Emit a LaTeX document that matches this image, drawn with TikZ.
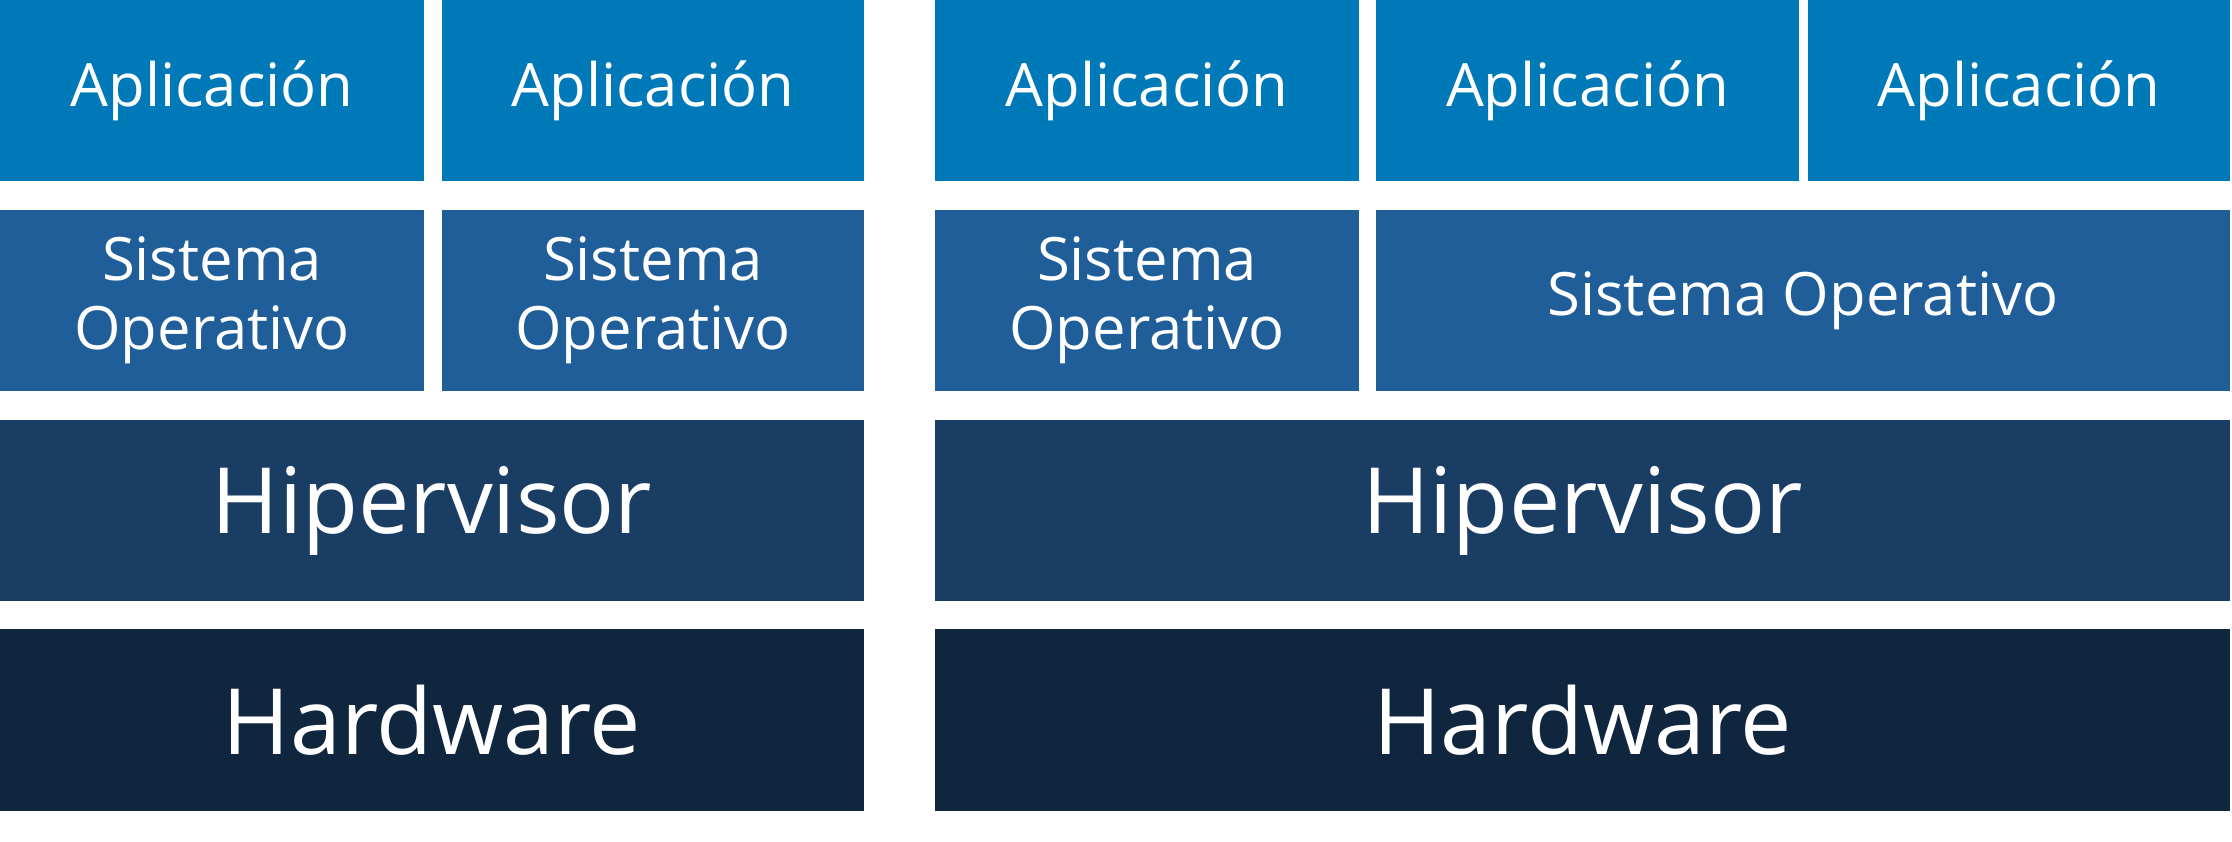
\documentclass[tikz,border=0pt]{standalone}
\usepackage{fontspec}
\setmainfont{Open Sans}
\definecolor{appazul}{HTML}{0079B9}
\definecolor{soazul}{HTML}{1F5E99}
\definecolor{hypazul}{HTML}{1A3D64}
\definecolor{hwazul}{HTML}{10263F}
\begin{document}
\begin{tikzpicture}[x=0.01cm,y=-0.01cm,
    caja/.style={inner sep=0pt,text=white,align=center,minimum height=1.81cm},
    app/.style={caja,fill=appazul,font=\fontsize{17}{19.6}\selectfont},
    so/.style={caja,fill=soazul,font=\fontsize{17}{19.6}\selectfont},
    hyp/.style={caja,fill=hypazul,font=\fontsize{26}{30}\selectfont},
    hw/.style={caja,fill=hwazul,font=\fontsize{26}{30}\selectfont}]
    \useasboundingbox[fill=white] (0,0) rectangle (2232,841);
    % Primer caso: un sistema operativo por aplicacion
    \begin{scope}
      \node[app,minimum width=4.24cm] (appA) at (212,90.5) {Aplicación};
      \node[app,minimum width=4.22cm] (appB) at (653,90.5) {Aplicación};
      \node[so,minimum width=4.24cm] (soA) at (212,300.5) {Sistema\\Operativo};
      \node[so,minimum width=4.22cm] (soB) at (653,300.5) {Sistema\\Operativo};
      \node[hyp,minimum width=8.64cm] (hypL) at (432,510.5) {Hipervisor};
      \node[hw,minimum width=8.64cm,minimum height=1.82cm] (hwL) at (432,720) {Hardware};
    \end{scope}
    % Segundo caso: dos aplicaciones comparten sistema operativo
    \begin{scope}
      \node[app,minimum width=4.24cm] (appC) at (1147,90.5) {Aplicación};
      \node[app,minimum width=4.23cm] (appD) at (1587.5,90.5) {Aplicación};
      \node[app,minimum width=4.22cm] (appE) at (2019,90.5) {Aplicación};
      \node[so,minimum width=4.24cm] (soC) at (1147,300.5) {Sistema\\Operativo};
      \node[so,minimum width=8.54cm] (soDE) at (1803,300.5) {Sistema Operativo};
      \node[hyp,minimum width=12.95cm] (hypR) at (1582.5,510.5) {Hipervisor};
      \node[hw,minimum width=12.95cm,minimum height=1.82cm] (hwR) at (1582.5,720) {Hardware};
    \end{scope}
\end{tikzpicture}
\end{document}
